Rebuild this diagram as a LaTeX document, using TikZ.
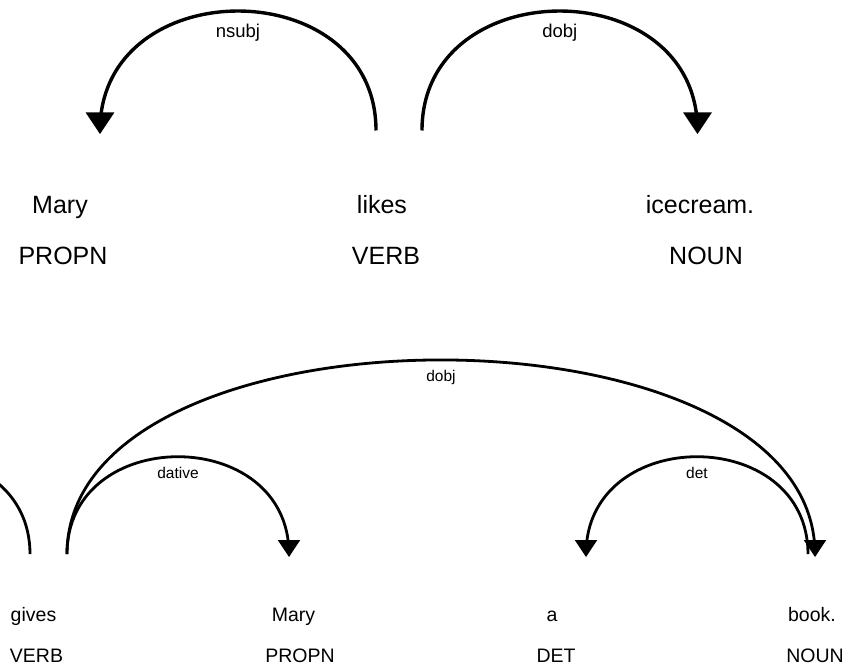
\documentclass[tikz,border=0pt]{standalone}
\usepackage{fontspec}
\setmainfont{Liberation Sans}
\begin{document}
\begin{tikzpicture}[x=1pt,y=-1pt,
  wordA/.style={anchor=base,inner sep=0pt,font=\fontsize{25}{30}\selectfont},
  labA/.style={anchor=base,inner sep=0pt,yshift=-26pt,font=\fontsize{18.5}{22}\selectfont},
  arcA/.style={line width=3.4pt},
  wordB/.style={anchor=base,inner sep=0pt,font=\fontsize{19.5}{23}\selectfont},
  labB/.style={anchor=base,inner sep=0pt,yshift=-22pt,font=\fontsize{15.5}{18}\selectfont},
  arcB/.style={line width=2.8pt},
  headfill/.style={fill=black}]
\useasboundingbox (0,0) rectangle (857,666);
\fill[white] (0,0) rectangle (857,666);
\clip (0,0) rectangle (857,666);

% ---- first sentence: Mary likes icecream.
\node[wordA] (w1) at (60,213) {Mary};
\node[wordA] (w2) at (382,213) {likes};
\node[wordA] (w3) at (700,213) {icecream.};
\node[wordA] (t1) at (63,264) {PROPN};
\node[wordA] (t2) at (386,264) {VERB};
\node[wordA] (t3) at (706,264) {NOUN};

\coordinate (w1H) at (100,130.5);
\coordinate (w2L) at (376,130.5);
\coordinate (w2R) at (422,130.5);
\coordinate (w3H) at (697.5,130.5);

\draw[arcA] (w2L) .. controls +(0,-159.3) and +(0,-159.3) .. (w1H)
  node[labA,pos=0.5] (l1) {nsubj};
\fill[headfill] (w1H) ++(0,3.6) -- ++(-14.4,-21.6) -- ++(28.8,0) -- cycle;

\draw[arcA] (w2R) .. controls +(0,-159.3) and +(0,-159.3) .. (w3H)
  node[labA,pos=0.5] (l2) {dobj};
\fill[headfill] (w3H) ++(0,3.6) -- ++(-14.4,-21.6) -- ++(28.8,0) -- cycle;

% ---- second sentence: ... gives Mary a book.
\node[wordB] (v1) at (33.5,621) {gives};
\node[wordB] (v2) at (293.5,621) {Mary};
\node[wordB] (v3) at (552,621) {a};
\node[wordB] (v4) at (812,621) {book.};
\node[wordB] (u1) at (36.5,662) {VERB};
\node[wordB] (u2) at (300,662) {PROPN};
\node[wordB] (u3) at (556,662) {DET};
\node[wordB] (u4) at (815,662) {NOUN};

\coordinate (v0S) at (-192,554.2);
\coordinate (v1E) at (30,554.2);
\coordinate (v1S) at (67,554.2);
\coordinate (v2H) at (289,554.2);
\coordinate (v3H) at (586,554.2);
\coordinate (v4L) at (808,554.2);
\coordinate (v4H) at (815,554.2);

% arc entering "gives" from an earlier word
\draw[arcB] (v0S) .. controls +(0,-130) and +(0,-130) .. (v1E);

\draw[arcB] (v1S) .. controls +(0,-259) and +(0,-259) .. (v4H)
  node[labB,pos=0.5] (m1) {dobj};
\fill[headfill] (v4H) ++(0,2.8) -- ++(-11.3,-17) -- ++(22.6,0) -- cycle;

\draw[arcB] (v1S) .. controls +(0,-130) and +(0,-130) .. (v2H)
  node[labB,pos=0.5] (m2) {dative};
\fill[headfill] (v2H) ++(0,2.8) -- ++(-11.3,-17) -- ++(22.6,0) -- cycle;

\draw[arcB] (v4L) .. controls +(0,-130) and +(0,-130) .. (v3H)
  node[labB,pos=0.5] (m3) {det};
\fill[headfill] (v3H) ++(0,2.8) -- ++(-11.3,-17) -- ++(22.6,0) -- cycle;
\end{tikzpicture}
\end{document}
